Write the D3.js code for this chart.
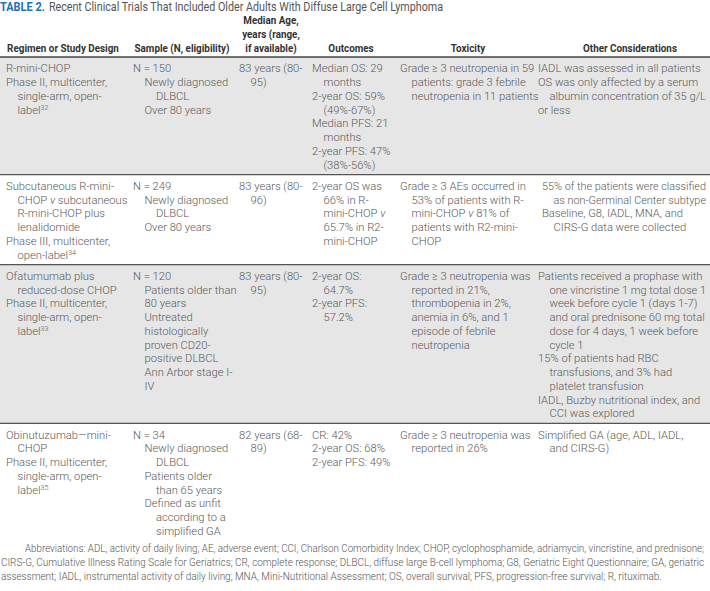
<!DOCTYPE html>
<html>
<head>
<meta charset="utf-8">
<script src="https://cdn.jsdelivr.net/npm/d3@7"></script>
<style>
  html, body { margin: 0; padding: 0; background: #fff; }
  svg { display: block; }
</style>
</head>
<body>
<svg id="tbl"></svg>
<script>
// Table 2 redrawn as SVG. Each cell is a list of already-broken lines;
// leading ">" marks the hanging-indent depth, "^" a superscript ref,
// _x_ an italic run.

const TITLE_LABEL = "TABLE 2.";
const TITLE_TEXT = "Recent Clinical Trials That Included Older Adults With Diffuse Large Cell Lymphoma";

const HEADERS = [
  ["Regimen or Study Design"],
  ["Sample (N, eligibility)"],
  ["Median Age,", "years (range,", "if available)"],
  ["Outcomes"],
  ["Toxicity"],
  ["Other Considerations"],
];

const REGIMEN = [
  ["R-mini-CHOP", "Phase II, multicenter,", ">single-arm, open-", ">label^32"],
  ["Subcutaneous R-mini-", ">CHOP _v_ subcutaneous", ">R-mini-CHOP plus", ">lenalidomide",
   "Phase III, multicenter,", ">open-label^34"],
  ["Ofatumumab plus", ">reduced-dose CHOP", "Phase II, multicenter,", ">single-arm, open-", ">label^33"],
  ["Obinutuzumab—mini-", ">CHOP", "Phase II, multicenter,", ">single-arm, open-", ">label^35"],
];

const SAMPLE = [
  ["N = 150", ">Newly diagnosed", ">>DLBCL", ">Over 80 years"],
  ["N = 249", ">Newly diagnosed", ">>DLBCL", ">Over 80 years"],
  ["N = 120", ">Patients older than", ">80 years", ">Untreated", ">histologically",
   ">proven CD20-", ">positive DLBCL", ">Ann Arbor stage I-", ">IV"],
  ["N = 34", ">Newly diagnosed", ">>DLBCL", ">Patients older", ">>than 65 years",
   ">Defined as unfit", ">>according to a", ">>simplified GA"],
];

const AGE = [
  ["83 years (80-", ">95)"],
  ["83 years (80-", ">96)"],
  ["83 years (80-", ">95)"],
  ["82 years (68-", ">89)"],
];

const OUTCOMES = [
  ["Median OS: 29", ">months", "2-year OS: 59%", ">(49%-67%)", "Median PFS: 21", ">months",
   "2-year PFS: 47%", ">(38%-56%)"],
  ["2-year OS was", ">66% in R-", ">mini-CHOP _v_", ">65.7% in R2-", ">mini-CHOP"],
  ["2-year OS:", ">64.7%", "2-year PFS:", ">57.2%"],
  ["CR: 42%", "2-year OS: 68%", "2-year PFS: 49%"],
];

const TOXICITY = [
  ["Grade ≥ 3 neutropenia in 59", ">patients: grade 3 febrile", ">neutropenia in 11 patients"],
  ["Grade ≥ 3 AEs occurred in", ">53% of patients with R-", ">mini-CHOP _v_ 81% of",
   ">patients with R2-mini-", ">CHOP"],
  ["Grade ≥ 3 neutropenia was", ">reported in 21%,", ">thrombopenia in 2%,",
   ">anemia in 6%, and 1", ">episode of febrile", ">neutropenia"],
  ["Grade ≥ 3 neutropenia was", ">reported in 26%"],
];

const OTHER = [
  ["IADL was assessed in all patients", "OS was only affected by a serum",
   ">albumin concentration of 35 g/L", "or less"],
  ["55% of the patients were classified", ">as non-Germinal Center subtype",
   "Baseline, G8, IADL, MNA, and", ">CIRS-G data were collected"],
  ["Patients received a prophase with", ">one vincristine 1 mg total dose 1",
   ">week before cycle 1 (days 1-7)", ">and oral prednisone 60 mg total",
   ">dose for 4 days, 1 week before", ">cycle 1", "15% of patients had RBC",
   ">transfusions, and 3% had", ">platelet transfusion",
   "IADL, Buzby nutritional index, and", ">CCI was explored"],
  ["Simplified GA (age, ADL, IADL,", ">and CIRS-G)"],
];

const ABBREVIATIONS = [
  "Abbreviations: ADL, activity of daily living; AE, adverse event; CCI, Charlson Comorbidity Index; CHOP, cyclophosphamide, adriamycin, vincristine, and prednisone;",
  "CIRS-G, Cumulative Illness Rating Scale for Geriatrics; CR, complete response; DLBCL, diffuse large B-cell lymphoma; G8, Geriatric Eight Questionnaire; GA, geriatric",
  "assessment; IADL, instrumental activity of daily living; MNA, Mini-Nutritional Assessment; OS, overall survival; PFS, progression-free survival; R, rituximab.",
];

const SHADED = [true, false, true, false];

// ---- layout ----
const W = 710, H = 591;
const COLS = [REGIMEN, SAMPLE, AGE, OUTCOMES, TOXICITY, OTHER];
const COL_X = [6, 133, 239, 312, 400, 538];
const COL_X_ROW = { "1-5": 542 }; // the one cell set slightly in
const HEAD_CX = [63, 182, 271, 351, 468, 630];
const INDENT = 11.5;
const LH = 13.75;
const HEAD_BOTTOM = 57;
const PAD_TOP = 15.3, PAD_BOT = 6;

const FONT = "Roboto, 'Liberation Sans', sans-serif";
const TEXT = "#595959";

// squeeze a text element horizontally (no condensed face is installed)
function condense(t, factor) {
  const len = t.node().getComputedTextLength();
  t.attr("textLength", len * factor).attr("lengthAdjust", "spacingAndGlyphs");
  return len * factor;
}

const svg = d3.select("#tbl").attr("width", W).attr("height", H)
  .attr("viewBox", `0 0 ${W} ${H}`);

// title: blue bold label, then the caption
const titleLabel = svg.append("text").attr("x", 0).attr("y", 11)
  .style("font-family", FONT).style("font-size", "12.2px")
  .style("font-weight", 700).style("fill", "#2370b8").text(TITLE_LABEL);
const labelW = condense(titleLabel, 0.9);
const titleX = labelW + 4;
svg.append("text").attr("x", titleX).attr("y", 11)
  .style("font-family", FONT).style("font-size", "12.2px").style("fill", "#555")
  .text(TITLE_TEXT)
  .attr("textLength", 443 - titleX).attr("lengthAdjust", "spacingAndGlyphs");

// header
const headG = svg.append("g")
  .style("font-family", FONT).style("font-weight", 700)
  .style("font-size", "11.6px").style("fill", "#333");
HEADERS.forEach((lines, ci) => {
  lines.forEach((ln, li) => {
    const t = headG.append("text")
      .attr("x", HEAD_CX[ci])
      .attr("y", 52 - (lines.length - 1 - li) * 14)
      .attr("text-anchor", "middle").text(ln);
    condense(t, 0.85);
  });
});

// row geometry
const nRows = REGIMEN.length;
const rowLines = d3.range(nRows).map((r) => d3.max(COLS, (c) => c[r].length));
const rowTop = [];
let yAcc = HEAD_BOTTOM;
rowLines.forEach((n) => {
  rowTop.push(yAcc);
  yAcc += PAD_TOP + (n - 1) * LH + PAD_BOT;
});
const rowBottom = rowTop.map((t, r) => t + PAD_TOP + (rowLines[r] - 1) * LH + PAD_BOT);

svg.insert("g", "text").selectAll("rect")
  .data(d3.range(nRows).filter((r) => SHADED[r])).join("rect")
  .attr("x", 0).attr("width", W)
  .attr("y", (r) => rowTop[r]).attr("height", (r) => rowBottom[r] - rowTop[r])
  .attr("fill", "#e6e6e6");

// rules
svg.append("line").attr("x1", 0).attr("x2", W)
  .attr("y1", HEAD_BOTTOM).attr("y2", HEAD_BOTTOM)
  .attr("stroke", "#444").attr("stroke-width", 1.6);
svg.append("g").selectAll("line").data(rowBottom.slice(0, nRows - 1)).join("line")
  .attr("x1", 0).attr("x2", W).attr("y1", (d) => d).attr("y2", (d) => d)
  .attr("stroke", "#555").attr("stroke-width", 1.3);

// body cells
function addRich(textSel, str) {
  const parts = str.split(/(_[^_]+_|\^\d+)/).filter((p) => p !== "");
  parts.forEach((p) => {
    if (p.startsWith("_")) {
      textSel.append("tspan").style("font-style", "italic").text(p.slice(1, -1));
    } else if (p.startsWith("^")) {
      textSel.append("tspan").attr("dy", -4).style("font-size", "7px").text(p.slice(1));
    } else {
      textSel.append("tspan").text(p);
    }
  });
}

const bodyG = svg.append("g")
  .style("font-family", FONT).style("font-weight", 300)
  .style("font-size", "11.2px").style("fill", TEXT);
COLS.forEach((col, ci) => {
  col.forEach((cell, ri) => {
    const x0 = COL_X_ROW[`${ri}-${ci}`] ?? COL_X[ci];
    cell.forEach((raw, li) => {
      const depth = raw.match(/^>*/)[0].length;
      const t = bodyG.append("text")
        .attr("x", x0 + depth * INDENT)
        .attr("y", rowTop[ri] + PAD_TOP + li * LH);
      addRich(t, raw.slice(depth));
      const limit = W - 4 - (x0 + depth * INDENT);
      const len = t.node().getComputedTextLength();
      if (len > limit) t.attr("textLength", limit).attr("lengthAdjust", "spacingAndGlyphs");
    });
  });
});

// abbreviations: squeezed with a transform so every line is justified to the edge
const abG = svg.append("g")
  .style("font-family", FONT).style("font-weight", 300)
  .style("font-size", "11px").style("fill", "#555");
const AB_Y0 = 552, AB_LH = 14.2;
let squeeze = 0.85;
ABBREVIATIONS.forEach((ln, i) => {
  const x0 = i === 0 ? 25 : 1;
  const t = abG.append("text").attr("x", 0).attr("y", 0).text(ln);
  const len = t.node().getComputedTextLength();
  if (i < ABBREVIATIONS.length - 1) squeeze = (706 - x0) / len;
  const s = Math.min(squeeze, (705 - x0) / len);
  t.attr("transform", `translate(${x0},${AB_Y0 + i * AB_LH}) scale(${s},1)`);
});
</script>
</body>
</html>
